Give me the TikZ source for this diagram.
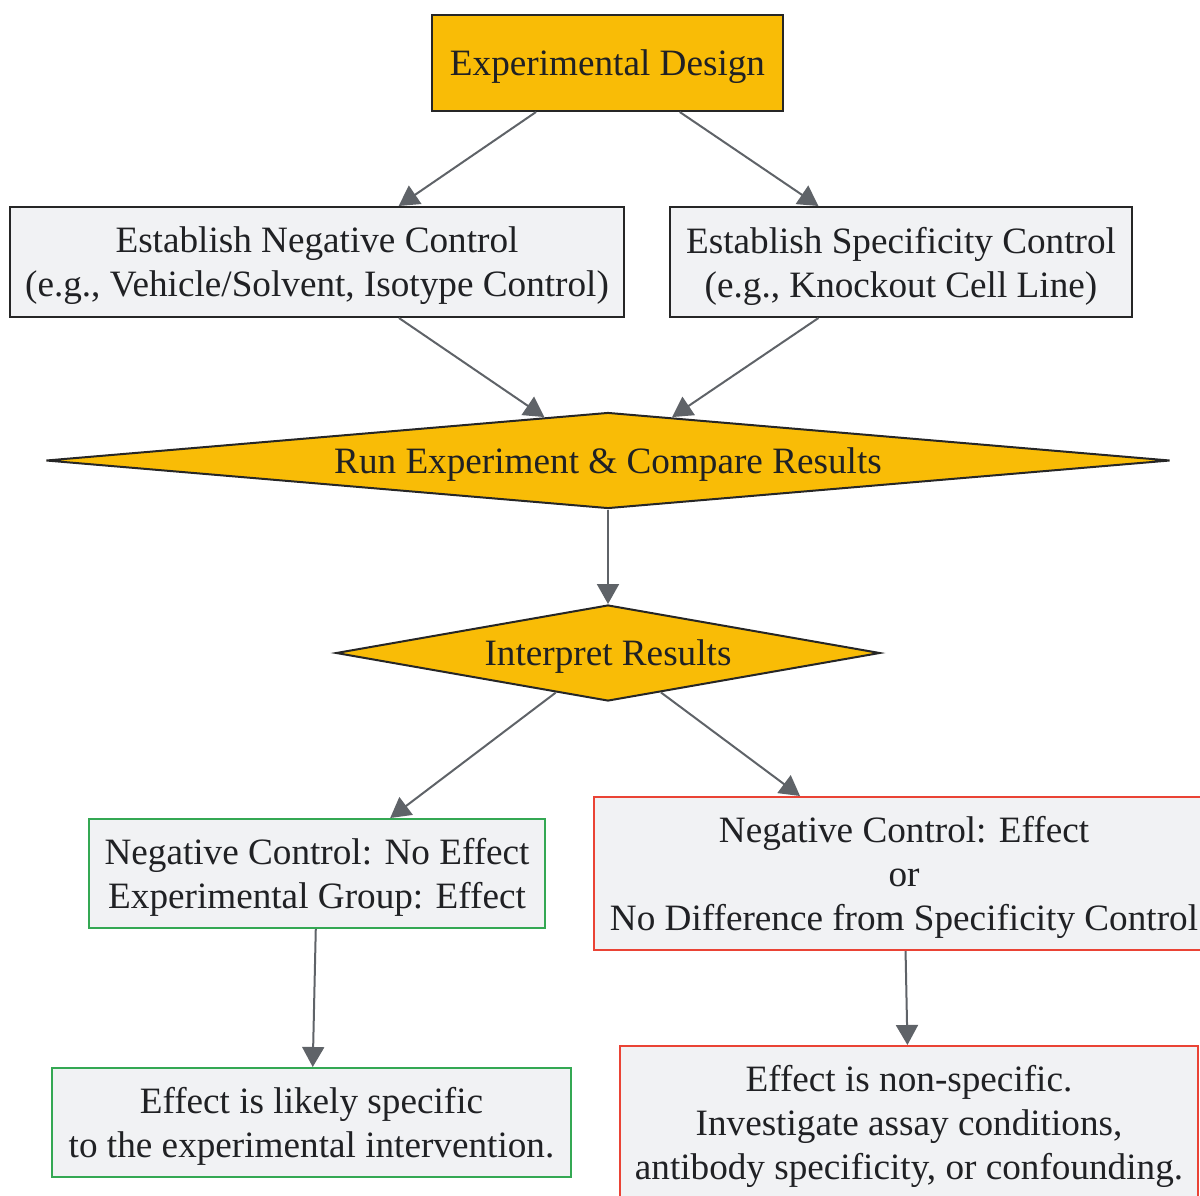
\documentclass[tikz,border=0pt]{standalone}
\usepackage{fontspec}
\setmainfont{Liberation Serif}
\usetikzlibrary{shapes.geometric,arrows.meta}
\definecolor{gold}{HTML}{F9BC06}
\definecolor{boxfill}{HTML}{F1F2F4}
\definecolor{edge}{HTML}{5F6368}
\definecolor{txt}{HTML}{202124}
\definecolor{okgreen}{HTML}{34A853}
\definecolor{badred}{HTML}{EA4335}
\begin{document}
\begin{tikzpicture}[x=1pt,y=-1pt,
  every node/.style={font=\fontsize{37.2}{44}\selectfont, text=txt, align=center, inner sep=0pt, text depth=0pt},
  rbox/.style={draw=black!85, line width=2pt, fill=boxfill},
  goldbox/.style={draw=black!85, line width=2pt, fill=gold},
  goldiam/.style={diamond, draw=black!85, line width=2pt, fill=gold},
  greenbox/.style={draw=okgreen, line width=2pt, fill=boxfill},
  redbox/.style={draw=badred, line width=2pt, fill=boxfill},
  conn/.style={draw=edge, line width=2pt, -{Triangle[length=20pt,width=22pt]}}]
\useasboundingbox (0,0) rectangle (1200,1195);
\node[goldbox, minimum width=351pt, minimum height=96pt] (ed) at (607.5,63) {Experimental Design};
\node[rbox, minimum width=614pt, minimum height=110pt] (neg) at (317,262) {Establish Negative Control\\(e.g., Vehicle/Solvent, Isotype Control)};
\node[rbox, minimum width=462pt, minimum height=110pt] (spec) at (901,262) {Establish Specificity Control\\(e.g., Knockout Cell Line)};
\node[goldiam, aspect=11.7, minimum width=1124pt, minimum height=96pt] (run) at (608,460.5) {Run Experiment \& Compare Results};
\node[goldiam, aspect=5.67, minimum width=544pt, minimum height=96pt] (interp) at (608,653) {Interpret Results};
\node[greenbox, minimum width=456pt, minimum height=109pt] (g1) at (317,873.5) {Negative Control: No Effect\\Experimental Group: Effect};
\node[redbox, minimum width=620pt, minimum height=153pt] (r1) at (904,873.5) {Negative Control: Effect\\or\\No Difference from Specificity Control};
\node[greenbox, minimum width=519pt, minimum height=109pt] (g2) at (311.5,1122.5) {Effect is likely specific\\to the experimental intervention.};
\node[redbox, minimum width=578pt, minimum height=153pt] (r2) at (909,1122.5) {Effect is non-specific.\\Investigate assay conditions,\\antibody specificity, or confounding.};
\draw[conn] (ed) -- (neg);
\draw[conn] (ed) -- (spec);
\draw[conn] (neg) -- (run);
\draw[conn] (spec) -- (run);
\draw[conn] (run) -- (interp);
\draw[conn] (interp) -- (g1);
\draw[conn] (interp) -- (r1);
\draw[conn] (g1) -- (g2);
\draw[conn] (r1) -- (r2);
\end{tikzpicture}
\end{document}
